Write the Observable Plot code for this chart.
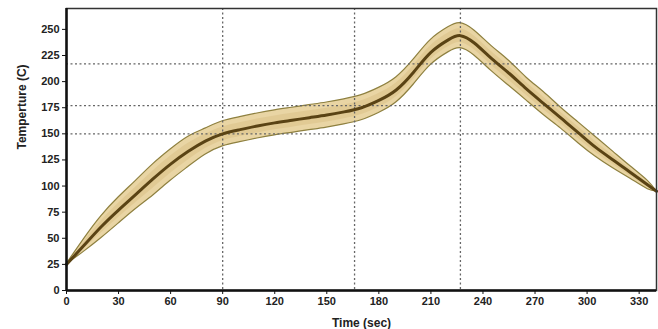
<!DOCTYPE html>
<html>
<head>
<meta charset="utf-8">
<script src="https://cdn.jsdelivr.net/npm/d3@7"></script>
<script src="https://cdn.jsdelivr.net/npm/@observablehq/plot@0.6"></script>
<style>
  html, body { margin: 0; padding: 0; background: #fff; }
  #chart svg { display: block; }
</style>
</head>
<body>
<div id="chart"></div>
<script>
const time  = [0, 10, 20, 30, 40, 50, 60, 70, 80, 90, 100, 110, 120, 130, 140, 150, 160, 170, 180, 190, 200, 210, 220, 227, 235, 245, 255, 265, 275, 285, 295, 305, 315, 325, 335, 340];
const temp  = [25, 43, 61, 77, 92, 107, 121, 133, 143, 150, 154, 157.5, 160.5, 163, 165.5, 168, 171, 175, 182, 192, 209, 228, 240, 244, 237, 222, 208, 193, 179, 165, 151, 137, 125, 113, 101, 95];
const lower = [25, 37, 50, 64, 78, 91, 105, 118, 130, 138, 142, 145.5, 148.5, 151, 153.5, 156, 159, 163, 170, 180, 197, 216, 228, 232, 225, 210, 196, 182, 168, 155, 141, 128, 117, 107, 97, 95];
const upper = [25, 49, 71, 89, 105, 121, 135, 147, 155, 162, 166, 169.5, 172.5, 175, 177.5, 180, 183, 187, 194, 204, 221, 240, 252, 256, 249, 234, 220, 204, 190, 175, 161, 147, 133, 119, 105, 95];
const xTicks = [0, 30, 60, 90, 120, 150, 180, 210, 240, 270, 300, 330];
const yTicks = [0, 25, 50, 75, 100, 125, 150, 175, 200, 225, 250];
const hGuides = [150, 177, 217];
const vGuides = [90, 166, 227];

const data = time.map((t, i) => ({t, v: temp[i], lo: lower[i], hi: upper[i],
  ilo: temp[i] - (temp[i] - lower[i]) * 0.55, ihi: temp[i] + (upper[i] - temp[i]) * 0.55}));

const font = "'Liberation Sans', Arial, sans-serif";
const curve = "natural";
const chart = Plot.plot({
  width: 658,
  height: 329,
  marginLeft: 66,
  marginRight: 2,
  marginTop: 8,
  marginBottom: 39,
  style: {fontFamily: font, fontSize: "11px", fontWeight: "bold", color: "#222", background: "#fff"},
  x: {domain: [0, 340]},
  y: {domain: [0, 270]},
  marks: [
    Plot.areaY(data, {x: "t", y1: "lo", y2: "hi", curve, fill: "#e9d5a4", stroke: "#8e8040", strokeWidth: 1.2}),
    Plot.areaY(data, {x: "t", y1: "ilo", y2: "ihi", curve, fill: "#d7bd80", fillOpacity: 0.45}),
    Plot.ruleY(hGuides, {stroke: "#666", strokeWidth: 1.3, strokeDasharray: "2,2.5"}),
    Plot.ruleX(vGuides, {stroke: "#666", strokeWidth: 1.3, strokeDasharray: "2,2.5"}),
    Plot.line(data, {x: "t", y: "v", curve, stroke: "#5a4314", strokeWidth: 3}),
    Plot.frame({stroke: "#333", strokeWidth: 1.5}),
    Plot.ruleX([0], {stroke: "#111", strokeWidth: 2.5}),
    Plot.ruleY([0], {stroke: "#111", strokeWidth: 2.5}),
    Plot.axisX({ticks: xTicks, tickSize: 4, tickPadding: 3, tickFormat: d => d, label: null, fontWeight: "bold", fontSize: 11, stroke: "#111"}),
    Plot.axisY({ticks: yTicks, tickSize: 4, tickPadding: 3, tickFormat: d => d, label: null, fontWeight: "bold", fontSize: 11, stroke: "#111"}),
    Plot.text(["Time (sec)"], {frameAnchor: "bottom", dy: 36, fontWeight: "bold", fontSize: 12, fill: "#222"}),
    Plot.text(["Temperture (C)"], {frameAnchor: "left", dx: -44, rotate: -90, fontWeight: "bold", fontSize: 12, fill: "#222"})
  ]
});
document.getElementById("chart").append(chart);
</script>
</body>
</html>
